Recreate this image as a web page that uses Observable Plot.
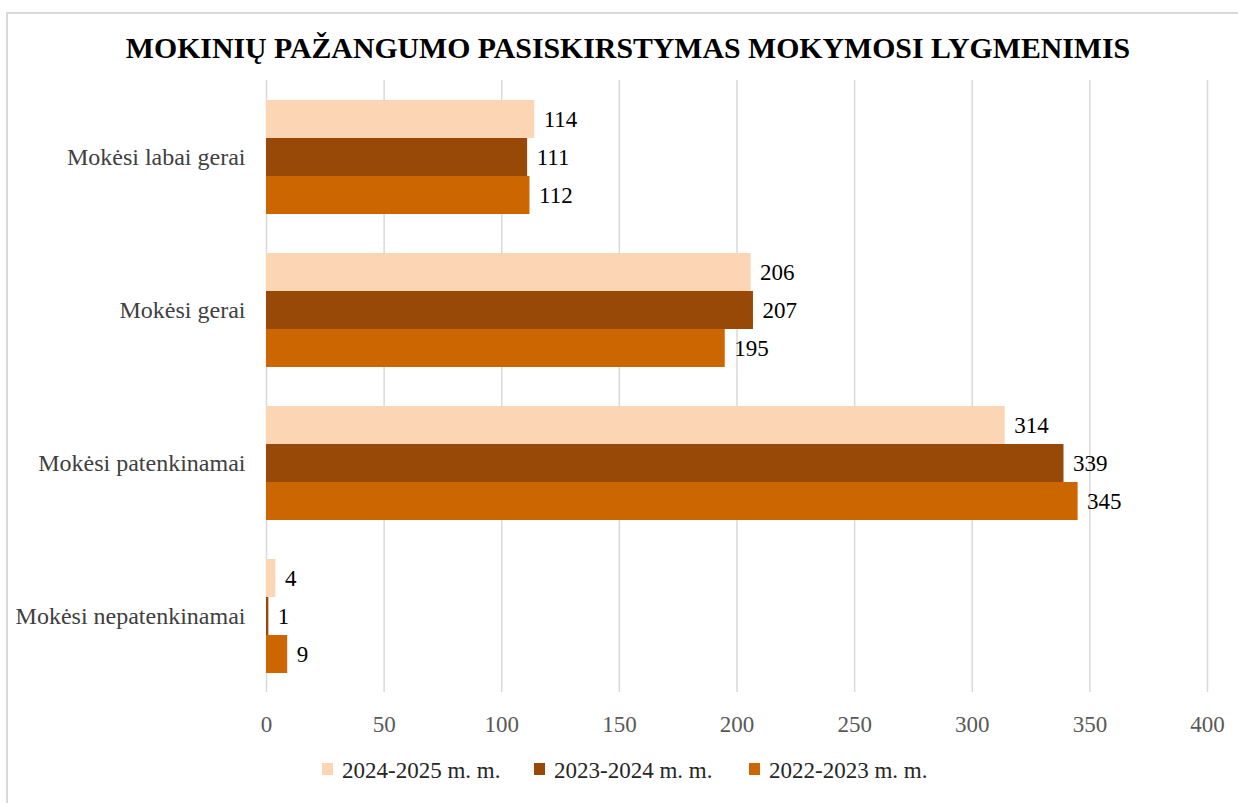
<!DOCTYPE html>
<html>
<head>
<meta charset="utf-8">
<script src="https://cdn.jsdelivr.net/npm/d3@7"></script>
<script src="https://cdn.jsdelivr.net/npm/@observablehq/plot@0.6"></script>
<style>
  html, body { margin: 0; padding: 0; background: #fff; overflow: hidden; }
  body { width: 1238px; height: 803px; position: relative; font-family: "Liberation Serif", "Times New Roman", "DejaVu Serif", serif; }
  svg, svg text { font-family: "Liberation Serif", "Times New Roman", "DejaVu Serif", serif !important; }
  #frame { position: absolute; left: 6px; top: 12px; width: 1250px; height: 820px; border: 2px solid #d9d9d9; box-sizing: border-box; }
  #title { position: absolute; left: 6px; width: 1244px; top: 33px; line-height: 1; text-align: center; font-weight: bold; font-size: 29.8px; color: #000; white-space: nowrap; }
  #chart { position: absolute; left: 0; top: 0; }
  #legend { position: absolute; left: 0; top: 756px; width: 1238px; height: 30px; }
  .item { position: absolute; top: 0; font-size: 23px; line-height: 30px; color: #262626; white-space: nowrap; }
  .sw { position: absolute; top: 7px; width: 11px; height: 12px; }
</style>
</head>
<body>
<div id="frame"></div>
<div id="title">MOKINIŲ PAŽANGUMO PASISKIRSTYMAS MOKYMOSI LYGMENIMIS</div>
<div id="chart"></div>
<div id="legend"></div>
<script>
const categories = ["Mokėsi labai gerai", "Mokėsi gerai", "Mokėsi patenkinamai", "Mokėsi nepatenkinamai"];
const seriesNames = ["2024-2025 m. m.", "2023-2024 m. m.", "2022-2023 m. m."];
const seriesColors = ["#fcd5b5", "#984807", "#cc6600"];
const values2024_2025 = [114, 206, 314, 4];
const values2023_2024 = [111, 207, 339, 1];
const values2022_2023 = [112, 195, 345, 9];
const xTicks = [0, 50, 100, 150, 200, 250, 300, 350, 400];

const seriesValues = [values2024_2025, values2023_2024, values2022_2023];
const rows = [];
categories.forEach((c, i) => {
  seriesNames.forEach((s, j) => {
    rows.push({cat: c, series: s, value: seriesValues[j][i]});
  });
});

const chart = Plot.plot({
  width: 1238,
  height: 743,
  marginLeft: 266,
  marginRight: 31,
  marginTop: 79,
  marginBottom: 50,
  style: {fontFamily: "'Liberation Serif', 'Times New Roman', serif", background: "transparent", overflow: "visible"},
  x: {domain: [0, 400], ticks: xTicks},
  y: {domain: seriesNames, paddingInner: 0, paddingOuter: 0.5, axis: null},
  fy: {domain: categories, padding: 0},
  color: {domain: seriesNames, range: seriesColors},
  marks: [
    Plot.gridX(xTicks, {stroke: "#d9d9d9", strokeOpacity: 1, strokeWidth: 1.5}),
    Plot.barX(rows, {x: "value", y: "series", fy: "cat", fill: "series"}),
    Plot.text(rows, {x: "value", y: "series", fy: "cat", text: d => String(d.value), textAnchor: "start", dx: 9, fontSize: 23, fill: "#000"}),
    Plot.axisX(xTicks, {anchor: "bottom", tickSize: 0, tickPadding: 23, fontSize: 23, color: "#595959", label: null, tickFormat: d => String(d)}),
    Plot.axisFy({anchor: "left", tickSize: 0, tickPadding: 21, fontSize: 24, color: "#404040", label: null})
  ]
});
document.getElementById("chart").appendChild(chart);

// legend
const legend = document.getElementById("legend");
const itemLefts = [322, 534, 749];
seriesNames.forEach((s, i) => {
  const sw = document.createElement("div");
  sw.className = "sw";
  sw.style.left = itemLefts[i] + "px";
  sw.style.background = seriesColors[i];
  legend.appendChild(sw);
  const t = document.createElement("div");
  t.className = "item";
  t.style.left = (itemLefts[i] + 20) + "px";
  t.textContent = s;
  legend.appendChild(t);
});
</script>
</body>
</html>
